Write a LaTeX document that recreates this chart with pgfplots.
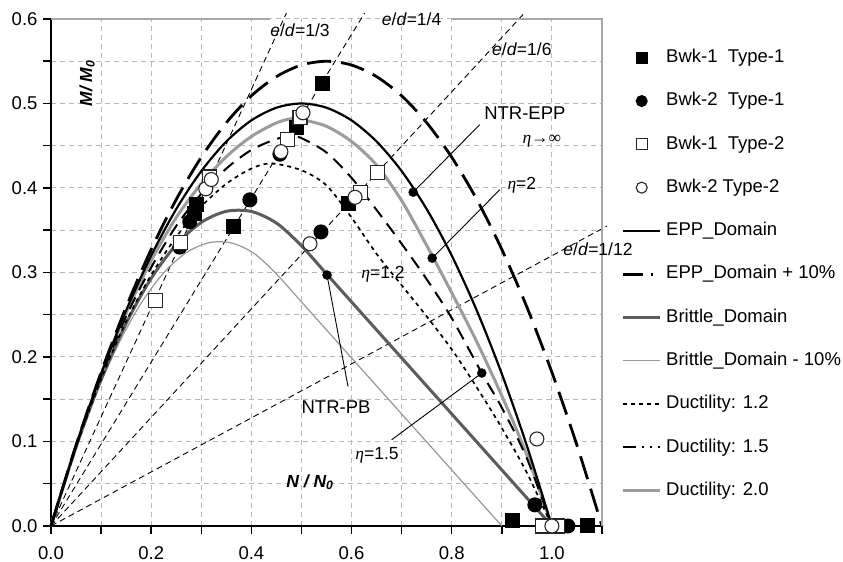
\documentclass[border=0pt]{standalone}
\usepackage{pgfplots}
\pgfplotsset{compat=1.18}
\usepackage{fontspec}
\setmainfont{Liberation Sans}
\newfontfamily\seriffont{Liberation Serif}
\definecolor{gridgray}{HTML}{B8B8B8}
\definecolor{bordergray}{HTML}{A8A8A8}
\definecolor{brittle}{HTML}{5C5C5C}
\definecolor{brittlelight}{HTML}{979797}
\definecolor{duct}{HTML}{9C9C9C}
\newcommand{\et}{{\seriffont\itshape η}}
\newcommand{\lf}{\fontsize{18.5}{22}\selectfont}
\pgfplotsset{
 linelegend/.style={legend image code/.code={\draw[##1] (0pt,0pt) -- (37pt,0pt);}},
 marklegend/.style={legend image code/.code={\draw[mark repeat=2,mark phase=2,##1,mark size=5.5pt] plot coordinates {(0pt,0pt)(18.5pt,0pt)(37pt,0pt)};}},
}
\pgfplotstableread{
x y
0 0
0.05 0.095
0.1 0.18
0.15 0.255
0.2 0.32
0.25 0.375
0.3 0.42
0.35 0.455
0.4 0.48
0.45 0.495
0.5 0.5
0.55 0.495
0.6 0.48
0.65 0.455
0.7 0.42
0.75 0.375
0.8 0.32
0.85 0.255
0.9 0.18
0.95 0.095
1.0 0
}\epp
\pgfplotstableread{
x y
0 0
0.05 0.0955
0.1 0.1818
0.15 0.2591
0.2 0.3273
0.25 0.3864
0.3 0.4364
0.35 0.4773
0.4 0.5091
0.45 0.5318
0.5 0.5455
0.55 0.55
0.6 0.5455
0.65 0.5318
0.7 0.5091
0.75 0.4773
0.8 0.4364
0.85 0.3864
0.9 0.3273
0.95 0.2591
1.0 0.1818
1.05 0.0955
1.1 0
}\eppten
\pgfplotstableread{
x y
0 0
0.05 0.0933
0.1 0.1733
0.15 0.2398
0.2 0.2930
0.25 0.3329
0.3 0.3593
0.35 0.3724
0.4 0.3722
0.45 0.3585
0.498 0.3328
0.55 0.2984
0.6 0.2652
0.7 0.1989
0.8 0.1326
0.9 0.0663
1.0 0
}\brit
\pgfplotstableread{
x y
0 0
0.045 0.0840
0.09 0.1560
0.135 0.2158
0.18 0.2637
0.225 0.2996
0.27 0.3234
0.315 0.3352
0.36 0.3350
0.405 0.3227
0.448 0.2995
0.5 0.2652
0.6 0.1989
0.7 0.1326
0.8 0.0663
0.9 0
}\britten
\pgfplotstableread{
x y
0 0
0.05 0.095
0.1 0.179
0.15 0.252
0.2 0.314
0.25 0.365
0.3 0.405
0.35 0.437
0.4 0.461
0.45 0.477
0.48 0.482
0.5 0.481
0.55 0.473
0.6 0.455
0.65 0.427
0.7 0.385
0.75 0.332
0.8 0.276
0.85 0.218
0.9 0.154
0.95 0.084
1.0 0
}\ductB
\pgfplotstableread{
x y
0 0
0.05 0.094
0.1 0.177
0.15 0.248
0.2 0.306
0.25 0.355
0.3 0.393
0.35 0.423
0.4 0.445
0.45 0.458
0.48 0.461
0.5 0.459
0.55 0.442
0.6 0.412
0.65 0.374
0.7 0.334
0.75 0.292
0.8 0.246
0.86 0.181
0.9 0.140
0.95 0.080
1.0 0
}\ductA
\pgfplotstableread{
x y
0 0
0.05 0.093
0.1 0.174
0.15 0.242
0.2 0.297
0.25 0.342
0.3 0.378
0.35 0.405
0.4 0.423
0.44 0.429
0.5 0.421
0.55 0.403
0.6 0.365
0.65 0.322
0.7 0.285
0.75 0.248
0.8 0.209
0.85 0.164
0.9 0.116
0.95 0.063
1.0 0
}\ductC
\begin{document}
\begin{tikzpicture}[font=\fontsize{17.5}{21}\selectfont]
\begin{axis}[name=ax, scale only axis, width=551pt, height=507pt,
 xmin=0, xmax=1.1, ymin=0, ymax=0.6,
 axis lines*=left, axis line style={line width=2.2pt, black},
 tick align=outside, major tick length=8pt, minor tick length=8pt,
 tick style={black, line width=1.5pt},
 xtick={0,0.2,0.4,0.6,0.8,1.0}, minor xtick={0.1,0.3,0.5,0.7,0.9,1.1},
 ytick={0,0.1,0.2,0.3,0.4,0.5,0.6}, minor ytick={0.05,0.15,0.25,0.35,0.45,0.55},
 grid=both,
 major grid style={gridgray, line width=1pt, dash pattern=on 5pt off 4pt},
 minor grid style={gridgray, line width=1pt, dash pattern=on 5pt off 4pt},
 /pgf/number format/fixed, /pgf/number format/fixed zerofill,
 /pgf/number format/precision=1, /pgf/number format/assume math mode=true,
 tick label style={font=\lf},
 xticklabel style={yshift=-9pt},
 yticklabel style={xshift=-2pt},
 clip=false,
 legend cell align=left,
 legend style={draw=none, fill=none, at={(1,1)}, anchor=north west,
   xshift=19.5pt, yshift=-28.5pt, row sep=23.2pt, inner sep=0pt,
   cells={anchor=west},
   nodes={inner sep=1.5pt, text height=13.3pt, text depth=3.8pt},
   /tikz/every odd column/.append style={column sep=3pt},
   font=\lf},
]
% e/d lines
\addplot[black, line width=0.9pt, dash pattern=on 6pt off 4pt, forget plot] coordinates {(0,0) (0.470,0.607)};
\addplot[black, line width=0.9pt, dash pattern=on 6pt off 4pt, forget plot] coordinates {(0,0) (0.626,0.607)};
\addplot[black, line width=0.9pt, dash pattern=on 6pt off 4pt, forget plot] coordinates {(0,0) (0.945,0.607)};
\addplot[black, line width=0.9pt, dash pattern=on 6pt off 4pt, forget plot] coordinates {(0,0) (1.11,0.355)};
% domains
\addplot[brittlelight, line width=1.2pt, smooth, forget plot] table[x=x,y=y] {\britten};
\addplot[brittle, line width=3pt, smooth, forget plot] table[x=x,y=y] {\brit};
\addplot[duct, line width=3pt, smooth, forget plot] table[x=x,y=y] {\ductB};
\addplot[black, line width=1.7pt, smooth, dash pattern=on 4pt off 4pt, forget plot] table[x=x,y=y] {\ductC};
\addplot[black, line width=2pt, smooth, dash pattern=on 13pt off 8pt, forget plot] table[x=x,y=y] {\ductA};
\addplot[black, line width=2.2pt, smooth, forget plot] table[x=x,y=y] {\epp};
\addplot[black, line width=2.8pt, smooth, dash pattern=on 24pt off 10pt, forget plot] table[x=x,y=y] {\eppten};
% frame
\draw[bordergray, line width=1.5pt] (axis cs:0,0.6) -- (axis cs:0.437,0.6);
\draw[bordergray, line width=1.5pt] (axis cs:0.80,0.6) -- (axis cs:1.1,0.6) -- (axis cs:1.1,0);
% leader lines
\addplot[black, line width=0.9pt, forget plot] coordinates {(0.723,0.395) (0.856,0.475)};
\addplot[black, line width=0.9pt, forget plot] coordinates {(0.761,0.317) (0.896,0.398)};
\addplot[black, line width=0.9pt, forget plot] coordinates {(0.86,0.181) (0.68,0.102)};
\addplot[black, line width=0.9pt, forget plot] coordinates {(0.551,0.297) (0.593,0.165)};
\addplot[only marks, mark=*, mark size=4.5pt, black, forget plot] coordinates {(0.723,0.395) (0.761,0.317) (0.86,0.181) (0.551,0.297)};
% data
\addplot[only marks, mark=square*, mark size=7pt, mark options={fill=black, draw=black, line width=1pt}, marklegend] coordinates {
(0.543,0.524) (0.491,0.471) (0.291,0.380) (0.287,0.370) (0.365,0.354) (0.593,0.382) (0.922,0.007) (1.072,0)};
\addlegendentry{\lf Bwk-1\ \ Type-1}
\addplot[only marks, mark=*, mark size=7pt, mark options={fill=black, draw=black, line width=1pt}, marklegend] coordinates {
(0.277,0.360) (0.257,0.330) (0.397,0.386) (0.457,0.440) (0.539,0.348) (0.966,0.025) (1.032,0)};
\addlegendentry{\lf Bwk-2\ \ Type-1}
\addplot[only marks, mark=square*, mark size=7pt, mark options={fill=white, draw=black!85, line width=1.1pt}, marklegend] coordinates {
(0.208,0.267) (0.259,0.335) (0.317,0.413) (0.473,0.457) (0.497,0.483) (0.617,0.395) (0.651,0.418) (0.982,0) (1.012,0)};
\addlegendentry{\lf Bwk-1\ \ Type-2}
\addplot[only marks, mark=*, mark size=7pt, mark options={fill=white, draw=black!85, line width=1.1pt}, marklegend] coordinates {
(0.309,0.399) (0.320,0.410) (0.459,0.443) (0.503,0.489) (0.517,0.334) (0.607,0.389) (0.970,0.103) (1.0,0)};
\addlegendentry{\lf Bwk-2 Type-2}
\addlegendimage{black, line width=2.2pt, linelegend}
\addlegendentry{\lf EPP\_Domain}
\addlegendimage{black, line width=2.8pt, dash pattern=on 20pt off 8pt on 2pt off 8pt, linelegend}
\addlegendentry{\lf EPP\_Domain + 10\%}
\addlegendimage{brittle, line width=3pt, linelegend}
\addlegendentry{\lf Brittle\_Domain}
\addlegendimage{brittlelight, line width=1.2pt, linelegend}
\addlegendentry{\lf Brittle\_Domain - 10\%}
\addlegendimage{black, line width=1.6pt, dash pattern=on 4pt off 4pt, linelegend}
\addlegendentry{\lf Ductility: 1.2}
\addlegendimage{black, line width=2pt, dash pattern=on 13pt off 6pt on 2pt off 6pt on 2pt off 6pt, linelegend}
\addlegendentry{\lf Ductility: 1.5}
\addlegendimage{duct, line width=3pt, linelegend}
\addlegendentry{\lf Ductility: 2.0}
% labels
\node at (axis cs:0.497,0.587) {\textit{e}/\textit{d}=1/3};
\node at (axis cs:0.720,0.600) {\textit{e}/\textit{d}=1/4};
\node at (axis cs:0.940,0.564) {\textit{e}/\textit{d}=1/6};
\node at (axis cs:1.092,0.328) {\textit{e}/\textit{d}=1/12};
\node at (axis cs:0.946,0.489) {\fontsize{18.5}{22}\selectfont NTR-EPP};
\node at (axis cs:0.980,0.455) {\et{\seriffont →∞}};
\node at (axis cs:0.940,0.403) {\et=2};
\node at (axis cs:0.663,0.298) {\et=1.2};
\node at (axis cs:0.651,0.084) {\et=1.5};
\node at (axis cs:0.569,0.141) {\fontsize{18.5}{22}\selectfont NTR-PB};
\node[rotate=90] at (axis cs:0.072,0.524) {\bfseries\itshape M/ M\textsubscript{0}};
\node at (axis cs:0.517,0.052) {\bfseries\itshape N / N\textsubscript{0}};
\end{axis}
\pgfresetboundingbox
\path ([xshift=-51pt,yshift=-36pt]ax.south west) rectangle ([xshift=241pt,yshift=19pt]ax.north east);
\end{tikzpicture}
\end{document}
